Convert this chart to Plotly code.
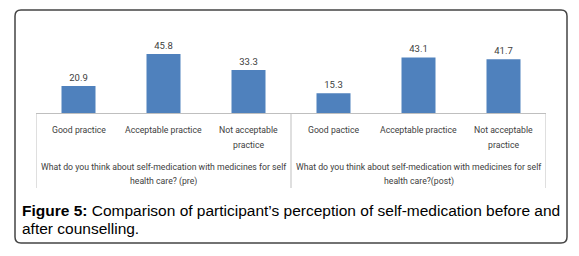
import plotly.graph_objects as go

# page body has an 8px default margin; the figure is sized to fill the rest
OFF = 8
W, H = 579 - OFF, 256 - OFF

categories = ["Good practice", "Acceptable practice", "Not acceptable<br>practice",
              "Good pactice", "Acceptable practice", "Not acceptable<br>practice"]
values = [20.9, 45.8, 33.3, 15.3, 43.1, 41.7]
value_labels = ["20.9", "45.8", "33.3", "15.3", "43.1", "41.7"]
groups = ["What do you think about self-medication with medicines for self<br>health care? (pre)",
          "What do you think about self-medication with medicines for self<br>health care?(post)"]
caption = ("<b>Figure 5:</b> Comparison of participant\u2019s perception of self-medication before and<br>"
           "after counselling.")

def px(x):
    return (x - OFF) / W

def py(y):
    return 1 - (y - OFF) / H

xpos = list(range(len(categories)))
BASE = 113
TOP = 20
plot_left, plot_right = 36, 546
scale = 1.29
LABEL_FONT = "Roboto, sans-serif"

fig = go.Figure()
fig.add_trace(go.Bar(
    x=xpos, y=values, width=0.4,
    marker=dict(color="#4f81bd", line=dict(width=0)),
    text=value_labels, textposition="outside",
    textfont=dict(family=LABEL_FONT, size=9.5, color="#404040"),
    cliponaxis=False, hoverinfo="skip",
))

annotations = []
for i, c in enumerate(categories):
    for li, line in enumerate(c.split("<br>")):
        annotations.append(dict(
            x=i, xref="x", y=py(130 + 15 * li), yref="paper", yanchor="middle", xanchor="center",
            text=line, showarrow=False,
            font=dict(family=LABEL_FONT, size=8.7, color="#404040"),
        ))
for gi, g in enumerate(groups):
    for li, line in enumerate(g.split("<br>")):
        annotations.append(dict(
            x=1 + 3 * gi, xref="x", y=py(167 + 14 * li), yref="paper", yanchor="middle",
            xanchor="center", text=line, showarrow=False,
            font=dict(family=LABEL_FONT, size=8.7, color="#404040"),
        ))
for li, line in enumerate(caption.split("<br>")):
    annotations.append(dict(
        x=px(20), xref="paper", y=py(210 + 18 * li), yref="paper", xanchor="left",
        yanchor="middle", text=line, showarrow=False, align="left",
        font=dict(family="Liberation Sans, Arial, sans-serif", size=15.5, color="#000000"),
    ))

shapes = []
for xv in [-0.5, 2.5, 5.5]:
    shapes.append(dict(type="line", xref="x", yref="paper", x0=xv, x1=xv,
                       y0=py(BASE), y1=py(188), line=dict(color="#bfbfbf", width=1)))
# rounded outer frame
x0, y0, x1, y1, r = px(15), py(10), px(567), py(243), 6
rx, ry = r / W, r / H
path = (f"M {x0+rx},{y0} L {x1-rx},{y0} Q {x1},{y0} {x1},{y0-ry} "
        f"L {x1},{y1+ry} Q {x1},{y1} {x1-rx},{y1} L {x0+rx},{y1} Q {x0},{y1} {x0},{y1+ry} "
        f"L {x0},{y0-ry} Q {x0},{y0} {x0+rx},{y0} Z")
shapes.append(dict(type="path", xref="paper", yref="paper", path=path,
                   line=dict(color="#444444", width=1.5)))

fig.update_layout(
    width=W, height=H, margin=dict(l=0, r=0, t=0, b=0),
    paper_bgcolor="white", plot_bgcolor="white", showlegend=False,
    xaxis=dict(domain=[px(plot_left), px(plot_right)], range=[-0.5, 5.5],
               showticklabels=False, ticks="", showgrid=False, zeroline=False,
               showline=True, linecolor="#bfbfbf", linewidth=1),
    yaxis=dict(domain=[py(BASE), py(TOP)], range=[0, (BASE - TOP) / scale],
               visible=False, showgrid=False, zeroline=False),
    annotations=annotations, shapes=shapes,
)

fig.write_html("out.html")
